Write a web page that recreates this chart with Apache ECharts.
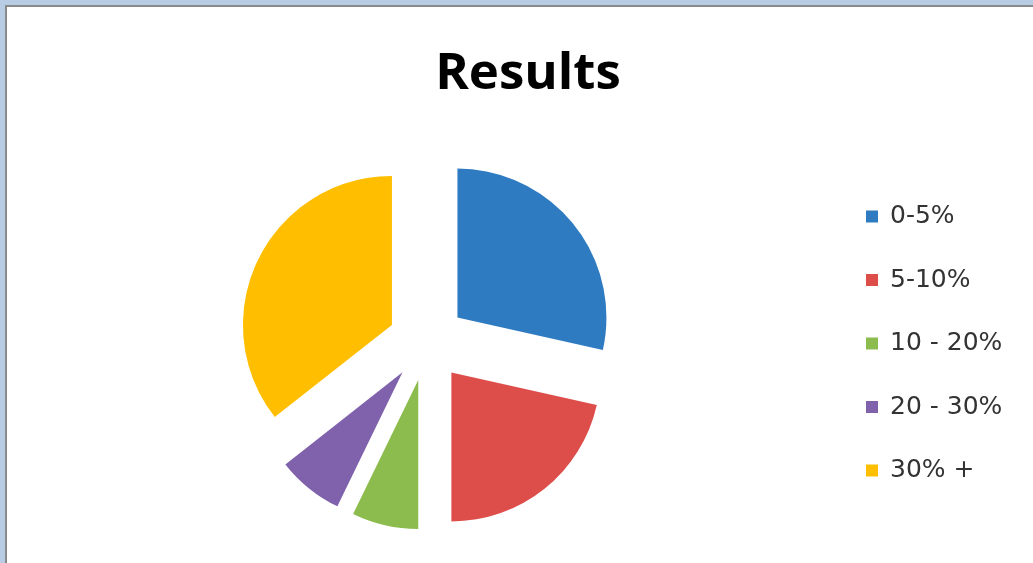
<!DOCTYPE html>
<html>
<head>
<meta charset="utf-8">
<title>Results</title>
<script src="https://cdn.jsdelivr.net/npm/echarts@6/dist/echarts.min.js"></script>
<style>
  html, body { margin: 0; padding: 0; width: 1033px; height: 563px; overflow: hidden; background: #b8cce4; }
  #frame { position: absolute; left: 5px; top: 5px; right: 0; bottom: 0; background: #fff;
           border-left: 2px solid #8a8a8a; border-top: 2px solid #8a8a8a; }
  #chart { position: absolute; left: 0; top: 0; width: 1026px; height: 556px; }
</style>
</head>
<body>
<div id="frame"><div id="chart"></div></div>
<script>
const categories = ['0-5%', '5-10%', '10 - 20%', '20 - 30%', '30% +']
const shares = [28.5, 21.5, 7.2, 7.2, 35.6]
const colors = ['#2e7bc2', '#dd4e4b', '#8cbb4e', '#7f62ab', '#ffbf00']

const chart = echarts.init(document.getElementById('chart'))

chart.setOption({
  animation: false,
  title: {
    text: 'Results',
    left: 516,
    textAlign: 'center',
    top: 37,
    textStyle: {
      fontFamily: 'Open Sans',
      fontSize: 51,
      fontWeight: 'bold',
      color: '#000'
    }
  },
  legend: {
    orient: 'vertical',
    left: 854,
    top: 192,
    icon: 'rect',
    itemWidth: 12,
    itemHeight: 12,
    itemGap: 38.5,
    selectedMode: false,
    textStyle: {
      fontFamily: 'DejaVu Sans',
      fontSize: 25,
      color: '#333',
      padding: [0, 0, 0, 7]
    },
    data: categories
  },
  series: [
    {
      type: 'pie',
      center: [420, 335],
      radius: 149,
      startAngle: 90,
      clockwise: true,
      selectedMode: 'multiple',
      selectedOffset: 39,
      label: { show: false },
      labelLine: { show: false },
      emphasis: { disabled: true },
      data: categories.map((name, i) => ({
        name,
        value: shares[i],
        selected: true,
        itemStyle: { color: colors[i] }
      }))
    }
  ]
})
</script>
</body>
</html>
